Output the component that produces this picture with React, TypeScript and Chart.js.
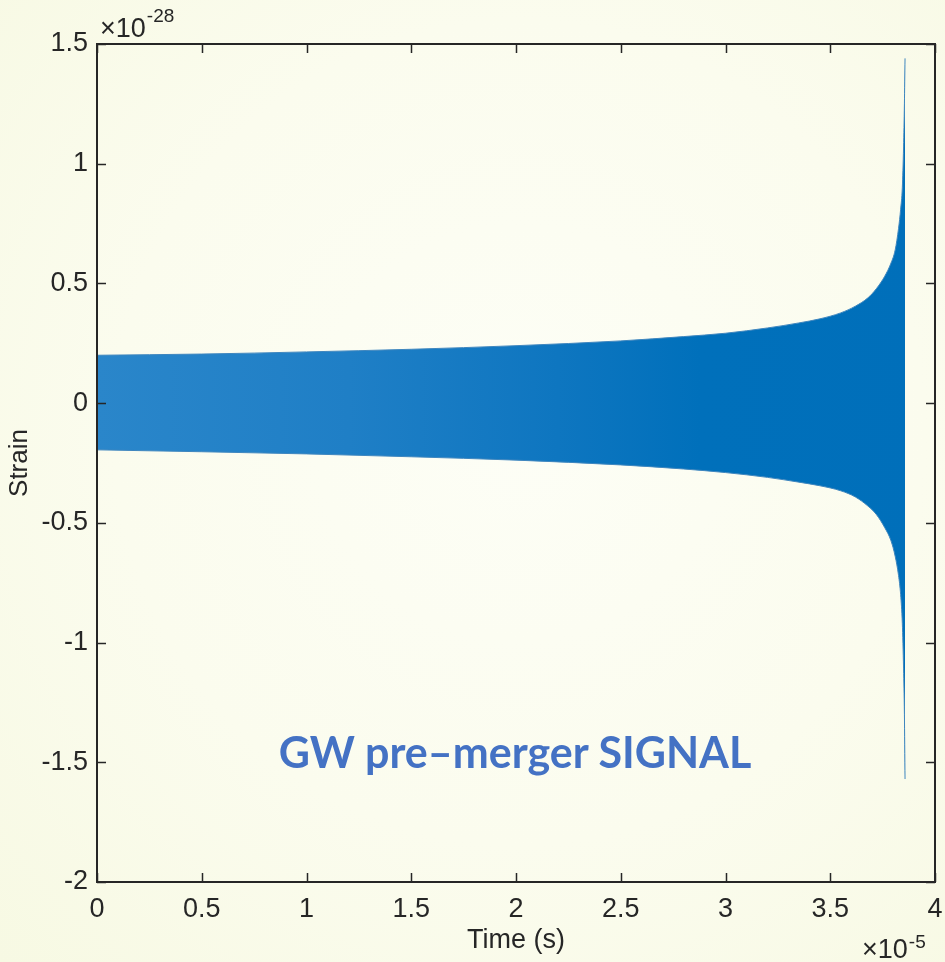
import React, { useEffect, useRef } from "react";
import { Chart, registerables } from "chart.js";

Chart.register(...registerables);

// Time in units of 1e-5 s, strain in units of 1e-28 (read from the envelope of the chirp)
const timeEnvelope = [0, 0.5, 1.0, 1.5, 2.0, 2.5, 2.8, 3.0, 3.2, 3.35, 3.45, 3.55, 3.62, 3.68, 3.72, 3.76, 3.79, 3.81, 3.826, 3.836, 3.844, 3.85, 3.854, 3.857];
const upperEnvelope = [0.2, 0.205, 0.214, 0.225, 0.24, 0.26, 0.278, 0.292, 0.314, 0.335, 0.352, 0.377, 0.405, 0.44, 0.478, 0.53, 0.585, 0.64, 0.73, 0.81, 0.9, 1.07, 1.25, 1.44];
const lowerEnvelope = [-0.195, -0.203, -0.212, -0.224, -0.238, -0.258, -0.275, -0.29, -0.31, -0.33, -0.345, -0.366, -0.392, -0.43, -0.465, -0.52, -0.575, -0.64, -0.72, -0.8, -0.92, -1.11, -1.3, -1.57];

const xTicks = [0, 0.5, 1, 1.5, 2, 2.5, 3, 3.5, 4];
const yTicks = [-2, -1.5, -1, -0.5, 0, 0.5, 1, 1.5];
const xExponent = "-5";
const yExponent = "-28";
const xTitle = "Time (s)";
const yTitle = "Strain";
const annotation = "GW pre–merger SIGNAL";

const FONT = '"Liberation Sans", Arial, Helvetica, sans-serif';
const AX = "#262626";

const matlabAxes = {
  id: "matlabAxes",
  afterDatasetsDraw(chart: any) {
    const { ctx, chartArea: a, scales } = chart;
    const x = scales.x;
    const y = scales.y;
    ctx.save();
    ctx.strokeStyle = AX;
    ctx.lineWidth = 1.5;
    ctx.beginPath();
    const tl = 9;
    x.ticks.forEach((t: any) => {
      const px = Math.round(x.getPixelForValue(t.value)) + 0.5;
      ctx.moveTo(px, a.bottom);
      ctx.lineTo(px, a.bottom - tl);
      ctx.moveTo(px, a.top);
      ctx.lineTo(px, a.top + tl);
    });
    y.ticks.forEach((t: any) => {
      const py = Math.round(y.getPixelForValue(t.value)) + 0.5;
      ctx.moveTo(a.left, py);
      ctx.lineTo(a.left + tl, py);
      ctx.moveTo(a.right, py);
      ctx.lineTo(a.right - tl, py);
    });
    ctx.stroke();
    ctx.lineWidth = 2;
    ctx.strokeRect(a.left, a.top, a.right - a.left, a.bottom - a.top);

    ctx.fillStyle = AX;
    ctx.textBaseline = "alphabetic";
    ctx.textAlign = "left";
    // y exponent
    ctx.font = `27px ${FONT}`;
    ctx.fillText("×10", a.left + 3, a.top - 7);
    let w = ctx.measureText("×10").width;
    ctx.font = `19px ${FONT}`;
    ctx.fillText(yExponent, a.left + 3 + w + 1, a.top - 22);
    // x exponent
    ctx.font = `27px ${FONT}`;
    ctx.fillText("×10", a.right - 73, a.bottom + 76);
    w = ctx.measureText("×10").width;
    ctx.font = `19px ${FONT}`;
    ctx.fillText(xExponent, a.right - 73 + w + 1, a.bottom + 66);
    ctx.restore();
  },
};

export default function App() {
  const ref = useRef<HTMLCanvasElement | null>(null);

  useEffect(() => {
    if (!ref.current) return;
    const upper = timeEnvelope.map((t, i) => ({ x: t, y: upperEnvelope[i] }));
    const lower = timeEnvelope.map((t, i) => ({ x: t, y: lowerEnvelope[i] }));

    const fillColor = (c: any) => {
      const chart = c.chart;
      const area = chart.chartArea;
      if (!area) return "#0072BD";
      const g = chart.ctx.createLinearGradient(area.left, 0, area.right, 0);
      g.addColorStop(0, "#2A86CA");
      g.addColorStop(0.3, "#1F7FC6");
      g.addColorStop(0.55, "#0E76C0");
      g.addColorStop(0.72, "#0070BB");
      g.addColorStop(1, "#006FBA");
      return g;
    };

    const chart = new Chart(ref.current, {
      type: "line",
      data: {
        datasets: [
          {
            label: "upper",
            data: upper,
            borderColor: "#3F86BE",
            borderWidth: 1,
            pointRadius: 0,
            cubicInterpolationMode: "monotone",
            fill: false,
          },
          {
            label: "lower",
            data: lower,
            borderColor: "#3F86BE",
            borderWidth: 1,
            pointRadius: 0,
            cubicInterpolationMode: "monotone",
            fill: "-1",
            backgroundColor: fillColor,
          },
        ],
      },
      options: {
        animation: false,
        responsive: false,
        devicePixelRatio: 1,
        layout: { padding: { left: 0, right: 10, top: 44, bottom: 0 } },
        plugins: { legend: { display: false }, tooltip: { enabled: false }, filler: { propagate: false } },
        scales: {
          x: {
            type: "linear",
            min: 0,
            max: 4,
            afterBuildTicks: (s: any) => {
              s.ticks = xTicks.map((v) => ({ value: v }));
            },
            afterFit: (s: any) => {
              s.height = 80;
              s.paddingLeft = 0;
              s.paddingRight = 0;
            },
            grid: { display: false, drawTicks: false },
            border: { display: false },
            ticks: {
              color: AX,
              font: { family: FONT, size: 27 },
              padding: 11,
              maxRotation: 0,
              autoSkip: false,
              callback: (v: any) => String(v),
            },
            title: {
              display: true,
              text: xTitle,
              color: AX,
              font: { family: FONT, size: 27 },
              padding: { top: 0, bottom: 5 },
            },
          },
          y: {
            type: "linear",
            min: -2,
            max: 1.5,
            afterBuildTicks: (s: any) => {
              s.ticks = yTicks.map((v) => ({ value: v }));
            },
            afterFit: (s: any) => {
              s.width = 97;
              s.paddingTop = 0;
              s.paddingBottom = 0;
            },
            grid: { display: false, drawTicks: false },
            border: { display: false },
            ticks: {
              color: AX,
              font: { family: FONT, size: 27 },
              padding: 9,
              autoSkip: false,
              callback: (v: any) => String(v),
            },
            title: {
              display: true,
              text: yTitle,
              color: AX,
              font: { family: FONT, size: 26 },
              padding: { top: 4, bottom: 0 },
            },
          },
        },
      },
      plugins: [matlabAxes],
    });
    return () => chart.destroy();
  }, []);

  return (
    <div
      style={{
        position: "absolute",
        left: 0,
        top: 0,
        width: 945,
        height: 962,
        overflow: "hidden",
        background: "radial-gradient(ellipse at 55% 45%, #FDFEF6 0%, #FBFCEE 55%, #F7F9E3 100%)",
      }}
    >
      <canvas ref={ref} width={945} height={962} style={{ position: "absolute", left: 0, top: 0 }} />
      <div
        style={{
          position: "absolute",
          left: 515,
          top: 751,
          transform: "translate(-50%, -50%)",
          color: "#4472C4",
          fontFamily: "Lato, 'Open Sans', sans-serif",
          fontWeight: 700,
          fontSize: 43,
          whiteSpace: "nowrap",
        }}
      >
        {annotation}
      </div>
    </div>
  );
}
